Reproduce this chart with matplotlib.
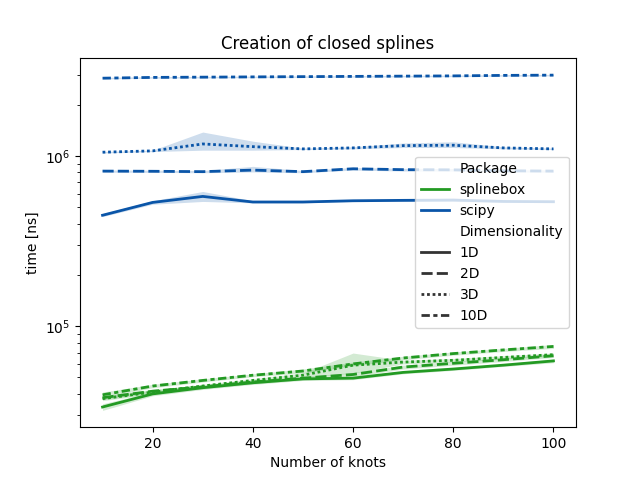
import matplotlib
matplotlib.use("Agg")
import matplotlib.pyplot as plt
from matplotlib.lines import Line2D

knots = [10, 20, 30, 40, 50, 60, 70, 80, 90, 100]
dims = ["1D", "2D", "3D", "10D"]

# mean time [ns] and confidence band (lower, upper) per package / dimensionality
splinebox = {
    "1D": [3.35e4, 4.00e4, 4.35e4, 4.65e4, 4.90e4, 4.95e4, 5.35e4, 5.60e4, 5.90e4, 6.25e4],
    "2D": [3.80e4, 4.15e4, 4.40e4, 4.70e4, 4.95e4, 5.20e4, 5.75e4, 6.05e4, 6.35e4, 6.70e4],
    "3D": [3.75e4, 4.10e4, 4.45e4, 4.80e4, 5.15e4, 5.90e4, 6.15e4, 6.30e4, 6.55e4, 6.80e4],
    "10D": [3.95e4, 4.45e4, 4.80e4, 5.15e4, 5.45e4, 6.00e4, 6.50e4, 6.90e4, 7.25e4, 7.60e4],
}
splinebox_lo = {
    "1D": [3.20e4, 3.90e4, 4.25e4, 4.55e4, 4.80e4, 4.85e4, 5.25e4, 5.50e4, 5.80e4, 6.10e4],
    "2D": [3.70e4, 4.05e4, 4.30e4, 4.60e4, 4.85e4, 5.05e4, 5.60e4, 5.90e4, 6.20e4, 6.55e4],
    "3D": [3.65e4, 4.00e4, 4.35e4, 4.70e4, 5.00e4, 5.30e4, 6.00e4, 6.15e4, 6.40e4, 6.65e4],
    "10D": [3.80e4, 4.35e4, 4.70e4, 5.05e4, 5.30e4, 5.85e4, 6.35e4, 6.75e4, 7.10e4, 7.40e4],
}
splinebox_hi = {
    "1D": [3.50e4, 4.10e4, 4.45e4, 4.75e4, 5.00e4, 5.05e4, 5.45e4, 5.70e4, 6.00e4, 6.40e4],
    "2D": [3.90e4, 4.25e4, 4.50e4, 4.80e4, 5.05e4, 5.35e4, 5.90e4, 6.20e4, 6.50e4, 6.85e4],
    "3D": [3.85e4, 4.20e4, 4.55e4, 4.90e4, 5.30e4, 6.95e4, 6.30e4, 6.45e4, 6.70e4, 6.95e4],
    "10D": [4.10e4, 4.55e4, 4.90e4, 5.25e4, 5.60e4, 6.15e4, 6.65e4, 7.05e4, 7.40e4, 7.80e4],
}

scipy = {
    "1D": [4.48e5, 5.33e5, 5.78e5, 5.36e5, 5.36e5, 5.45e5, 5.48e5, 5.50e5, 5.40e5, 5.38e5],
    "2D": [8.14e5, 8.12e5, 8.08e5, 8.25e5, 8.08e5, 8.40e5, 8.30e5, 8.28e5, 8.18e5, 8.14e5],
    "3D": [1.051e6, 1.070e6, 1.175e6, 1.133e6, 1.099e6, 1.114e6, 1.149e6, 1.155e6, 1.114e6, 1.099e6],
    "10D": [2.86e6, 2.89e6, 2.90e6, 2.91e6, 2.92e6, 2.93e6, 2.94e6, 2.95e6, 2.97e6, 2.98e6],
}
scipy_lo = {
    "1D": [4.40e5, 5.20e5, 5.40e5, 5.30e5, 5.30e5, 5.40e5, 5.40e5, 5.40e5, 5.35e5, 5.33e5],
    "2D": [8.02e5, 8.00e5, 7.96e5, 8.05e5, 7.96e5, 8.25e5, 8.15e5, 8.15e5, 8.06e5, 8.02e5],
    "3D": [1.040e6, 1.060e6, 1.080e6, 1.080e6, 1.090e6, 1.100e6, 1.120e6, 1.120e6, 1.100e6, 1.090e6],
    "10D": [2.83e6, 2.86e6, 2.87e6, 2.88e6, 2.89e6, 2.90e6, 2.91e6, 2.92e6, 2.94e6, 2.95e6],
}
scipy_hi = {
    "1D": [4.58e5, 5.45e5, 6.18e5, 5.45e5, 5.42e5, 5.52e5, 5.56e5, 5.65e5, 5.46e5, 5.43e5],
    "2D": [8.26e5, 8.24e5, 8.20e5, 8.68e5, 8.20e5, 8.55e5, 8.45e5, 8.42e5, 8.30e5, 8.26e5],
    "3D": [1.060e6, 1.080e6, 1.380e6, 1.220e6, 1.110e6, 1.130e6, 1.190e6, 1.210e6, 1.130e6, 1.110e6],
    "10D": [2.89e6, 2.92e6, 2.93e6, 2.94e6, 2.95e6, 2.96e6, 2.97e6, 2.98e6, 3.00e6, 3.01e6],
}

green = "#239a23"
blue = "#0a55a8"
styles = {
    "1D": "-",
    "2D": (0, (4, 1.5)),
    "3D": (0, (1, 1)),
    "10D": (0, (3, 1.25, 1.5, 1.25)),
}

fig, ax = plt.subplots(figsize=(6.4, 4.8), dpi=100)

for mean, lo, hi, col in [(splinebox, splinebox_lo, splinebox_hi, green),
                          (scipy, scipy_lo, scipy_hi, blue)]:
    for d in dims:
        ax.plot(knots, mean[d], color=col, linestyle=styles[d], lw=2)
        ax.fill_between(knots, lo[d], hi[d], color=col, alpha=0.2, linewidth=0)

ax.set_yscale("log")
ax.set_title("Creation of closed splines")
ax.set_xlabel("Number of knots")
ax.set_ylabel("time [ns]")

blank = Line2D([], [], color="none")
handles = [blank,
           Line2D([], [], color=green, lw=2),
           Line2D([], [], color=blue, lw=2),
           blank]
labels = ["Package", "splinebox", "scipy", "Dimensionality"]
for d in dims:
    handles.append(Line2D([], [], color=".2", lw=2, linestyle=styles[d]))
    labels.append(d)
ax.legend(handles, labels, loc="center right")

plt.savefig("out.png")
